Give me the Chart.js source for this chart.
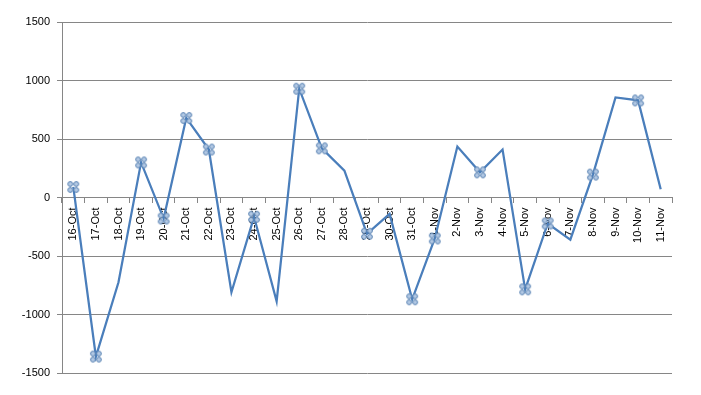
<!DOCTYPE html>
<html>
<head>
<meta charset="utf-8">
<script src="https://cdn.jsdelivr.net/npm/chart.js@4"></script>
<style>
  html, body { margin: 0; padding: 0; background: #fff; }
  #wrap { width: 701px; height: 395px; }
</style>
</head>
<body>
<div id="wrap"><canvas id="mainChart" width="701" height="395"></canvas></div>
<script>
const days = ['16-Oct', '17-Oct', '18-Oct', '19-Oct', '20-Oct', '21-Oct', '22-Oct', '23-Oct', '24-Oct', '25-Oct',
  '26-Oct', '27-Oct', '28-Oct', '29-Oct', '30-Oct', '31-Oct', '1-Nov', '2-Nov', '3-Nov', '4-Nov',
  '5-Nov', '6-Nov', '7-Nov', '8-Nov', '9-Nov', '10-Nov', '11-Nov'];
const values = [90, -1360, -725, 300, -180, 680, 410, -810, -165, -887,
  930, 420, 230, -310, -140, -870, -350, 435, 215, 410,
  -785, -222, -360, 196, 855, 830, 70];
// which days carry a marker in the original
const marked = [true, true, false, true, true, true, true, false, true, false,
  true, true, false, true, false, true, true, false, true, false,
  true, true, false, true, false, true, false];
const yTicks = [-1500, -1000, -500, 0, 500, 1000, 1500];

const lineColor = '#4a7ebb';
const gridColor = '#868686';

function makeMarker() {
  const c = document.createElement('canvas');
  c.width = 14;
  c.height = 14;
  const g = c.getContext('2d');
  [[4, 4], [10, 4], [4, 10], [10, 10]].forEach(([x, y]) => {
    g.beginPath();
    g.arc(x, y, 2.4, 0, Math.PI * 2);
    g.fillStyle = '#b3c9e4';
    g.fill();
    g.lineWidth = 1;
    g.strokeStyle = '#5a83b3';
    g.stroke();
  });
  return c;
}
const marker = makeMarker();

const font = { family: 'Liberation Sans, Arial, sans-serif', size: 11 };

new Chart(document.getElementById('mainChart').getContext('2d'), {
  type: 'line',
  data: {
    labels: days,
    datasets: [{
      data: values,
      borderColor: lineColor,
      borderWidth: 2.25,
      tension: 0,
      fill: false,
      pointStyle: ctx => marked[ctx.dataIndex] ? marker : false,
      pointRadius: ctx => marked[ctx.dataIndex] ? 6 : 0,
      pointHoverRadius: 0
    }]
  },
  options: {
    responsive: false,
    animation: false,
    layout: { padding: { top: 22, right: 29, bottom: 22, left: 0 } },
    plugins: { legend: { display: false }, tooltip: { enabled: false } },
    scales: {
      x: {
        position: { y: 0 },
        offset: true,
        grid: { display: true, drawOnChartArea: false, drawTicks: true, tickLength: 5, offset: true, color: gridColor },
        border: { display: true, color: gridColor, width: 1 },
        ticks: { autoSkip: false, minRotation: 90, maxRotation: 90, color: '#000', font: font, padding: 5 }
      },
      y: {
        min: -1500,
        max: 1500,
        afterBuildTicks: s => { s.ticks = yTicks.map(v => ({ value: v })); },
        afterFit: s => { s.width = 62; },
        grid: { color: gridColor, lineWidth: 1, drawTicks: true, tickLength: 5 },
        border: { display: true, color: gridColor, width: 1 },
        ticks: { color: '#000', font: font, padding: 7, callback: v => String(v) }
      }
    }
  }
});
</script>
</body>
</html>
